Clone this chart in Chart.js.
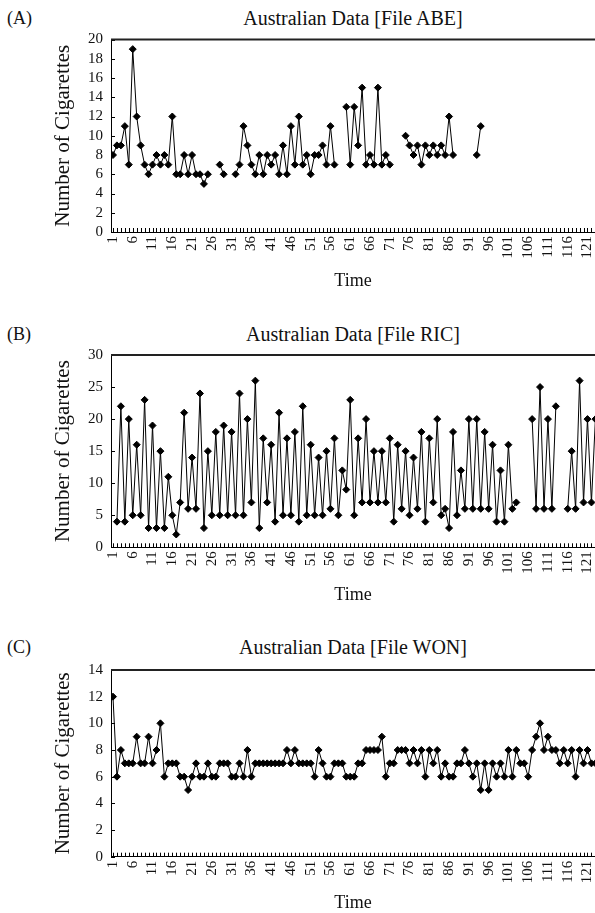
<!DOCTYPE html>
<html>
<head>
<meta charset="utf-8">
<script src="https://cdn.jsdelivr.net/npm/chart.js@4.4.1/dist/chart.umd.min.js"></script>
<style>
  html, body { margin: 0; padding: 0; background: #fff; }
  body { width: 595px; height: 913px; position: relative; overflow: hidden;
         font-family: "Liberation Serif", "DejaVu Serif", serif; color: #111; }
  .panel { position: absolute; left: 0; width: 595px; height: 270px; }
  .tag { position: absolute; left: 7px; font-size: 18px; line-height: 24px; }
  .title { position: absolute; left: 111px; width: 484px; text-align: center; font-size: 20px; line-height: 24px; }
</style>
</head>
<body>
<div class="tag" style="top:6px">(A)</div>
<div class="title" style="top:6px">Australian Data [File ABE]</div>
<div class="panel" style="top:30px"><canvas id="chartA"></canvas></div>

<div class="tag" style="top:322px">(B)</div>
<div class="title" style="top:322px">Australian Data [File RIC]</div>
<div class="panel" style="top:345px"><canvas id="chartB"></canvas></div>

<div class="tag" style="top:635px">(C)</div>
<div class="title" style="top:635px">Australian Data [File WON]</div>
<div class="panel" style="top:660px"><canvas id="chartC"></canvas></div>

<script>
// tick labels on the time axis
const xTicks = [1, 6, 11, 16, 21, 26, 31, 36, 41, 46, 51, 56, 61, 66, 71, 76, 81, 86, 91, 96, 101, 106, 111, 116, 121];

// cigarettes per time point (index 0 = time 1), null = missing
const abeCigs = [
  8, 9, 9, 11, 7, 19, 12, 9, 7, 6,
  7, 8, 7, 8, 7, 12, 6, 6, 8, 6,
  8, 6, 6, 5, 6, null, null, 7, 6, null,
  null, 6, 7, 11, 9, 7, 6, 8, 6, 8,
  7, 8, 6, 9, 6, 11, 7, 12, 7, 8,
  6, 8, 8, 9, 7, 11, 7, null, null, 13,
  7, 13, 9, 15, 7, 8, 7, 15, 7, 8,
  7, null, null, null, 10, 9, 8, 9, 7, 9,
  8, 9, 8, 9, 8, 12, 8, null, null, null,
  null, null, 8, 11, null, null, null, null, null, null,
  null, null, null, null, null, null, null, null, null, null,
  null, null, null, null, null, null, null, null, null, null,
  null, null, null, null
];

const ricCigs = [
  null, 4, 22, 4, 20, 5, 16, 5, 23, 3,
  19, 3, 15, 3, 11, 5, 2, 7, 21, 6,
  14, 6, 24, 3, 15, 5, 18, 5, 19, 5,
  18, 5, 24, 5, 20, 7, 26, 3, 17, 7,
  16, 4, 21, 5, 17, 5, 18, 4, 22, 5,
  16, 5, 14, 5, 15, 6, 17, 5, 12, 9,
  23, 5, 17, 7, 20, 7, 15, 7, 15, 7,
  17, 4, 16, 6, 15, 5, 14, 6, 18, 4,
  17, 7, 20, 5, 6, 3, 18, 5, 12, 6,
  20, 6, 20, 6, 18, 6, 16, 4, 12, 4,
  16, 6, 7, null, null, null, 20, 6, 25, 6,
  20, 6, 22, null, null, 6, 15, 6, 26, 7,
  20, 7, 20, 10
];

const wonCigs = [
  12, 6, 8, 7, 7, 7, 9, 7, 7, 9,
  7, 8, 10, 6, 7, 7, 7, 6, 6, 5,
  6, 7, 6, 6, 7, 6, 6, 7, 7, 7,
  6, 6, 7, 6, 8, 6, 7, 7, 7, 7,
  7, 7, 7, 7, 8, 7, 8, 7, 7, 7,
  7, 6, 8, 7, 6, 6, 7, 7, 7, 6,
  6, 6, 7, 7, 8, 8, 8, 8, 9, 6,
  7, 7, 8, 8, 8, 7, 8, 7, 8, 6,
  8, 7, 8, 6, 7, 6, 6, 7, 7, 8,
  7, 6, 7, 5, 7, 5, 7, 6, 7, 6,
  8, 6, 8, 7, 7, 6, 8, 9, 10, 8,
  9, 8, 8, 7, 8, 7, 8, 6, 8, 7,
  8, 7, 7, 7
];

const serif = '"Liberation Serif", "DejaVu Serif", serif';

// little inward ticks + top frame line, like the original plot
const innerTicks = {
  id: 'innerTicks',
  beforeDatasetsDraw(chart) {
    const { ctx, chartArea: a, scales: { x, y } } = chart;
    ctx.save();
    ctx.strokeStyle = '#000';
    ctx.lineWidth = 1;
    ctx.beginPath();
    for (let t = 1; t <= x.max; t++) {
      const px = Math.round(x.getPixelForValue(t)) + 0.5;
      ctx.moveTo(px, a.bottom);
      ctx.lineTo(px, a.bottom - 4);
    }
    y.ticks.forEach(t => {
      const py = Math.round(y.getPixelForValue(t.value)) + 0.5;
      ctx.moveTo(a.left, py);
      ctx.lineTo(a.left + 4, py);
    });
    ctx.stroke();
    ctx.lineWidth = 1.8;
    ctx.strokeStyle = '#222';
    ctx.beginPath();
    ctx.moveTo(a.left, a.top);
    ctx.lineTo(a.right, a.top);
    ctx.stroke();
    ctx.restore();
  }
};

// axisH = height of the time axis box, timePad = gap under "Time"
function makeChart(id, values, yMax, yStep, topPad, axisH, timePad) {
  const points = values.map((v, i) => ({ x: i + 1, y: v }));
  new Chart(document.getElementById(id), {
    type: 'line',
    data: {
      datasets: [{
        data: points,
        borderColor: '#000',
        borderWidth: 1,
        pointStyle: 'rectRot',
        pointRadius: 3.5,
        pointBackgroundColor: '#000',
        pointBorderColor: '#000',
        pointBorderWidth: 1,
        spanGaps: false,
        tension: 0
      }]
    },
    options: {
      responsive: true,
      maintainAspectRatio: false,
      animation: false,
      layout: { autoPadding: false, padding: { top: topPad, right: 0, bottom: 0, left: 0 } },
      plugins: { legend: { display: false }, tooltip: { enabled: false } },
      scales: {
        x: {
          type: 'linear',
          min: 0.5,
          max: 122.9,
          afterBuildTicks: s => { s.ticks = xTicks.map(v => ({ value: v })); },
          afterFit: s => { s.height = axisH; s.paddingLeft = 0; s.paddingRight = 0; },
          grid: { display: false, drawTicks: false },
          border: { display: true, color: '#000', width: 1 },
          ticks: {
            autoSkip: false, minRotation: 90, maxRotation: 90, padding: 4,
            color: '#111', font: { family: serif, size: 15 }
          },
          title: {
            display: true, text: 'Time', color: '#111',
            font: { family: serif, size: 18 }, padding: { top: 0, bottom: timePad }
          }
        },
        y: {
          min: 0,
          max: yMax,
          afterFit: s => { s.width = 111; s.paddingTop = 0; s.paddingBottom = 0; },
          grid: { display: false, drawTicks: false },
          border: { display: true, color: '#000', width: 1 },
          ticks: {
            stepSize: yStep, autoSkip: false, padding: 8,
            color: '#111', font: { family: serif, size: 15 }
          },
          title: {
            display: true, text: 'Number of Cigarettes', color: '#111',
            font: { family: serif, size: 21 }, padding: { top: 51, bottom: 0 }
          }
        }
      }
    },
    plugins: [innerTicks]
  });
}

makeChart('chartA', abeCigs, 20, 2, 9.5, 68, 8);
makeChart('chartB', ricCigs, 30, 5, 10, 67.7, 9);
makeChart('chartC', wonCigs, 14, 2, 10, 73.3, 16);
</script>
</body>
</html>
